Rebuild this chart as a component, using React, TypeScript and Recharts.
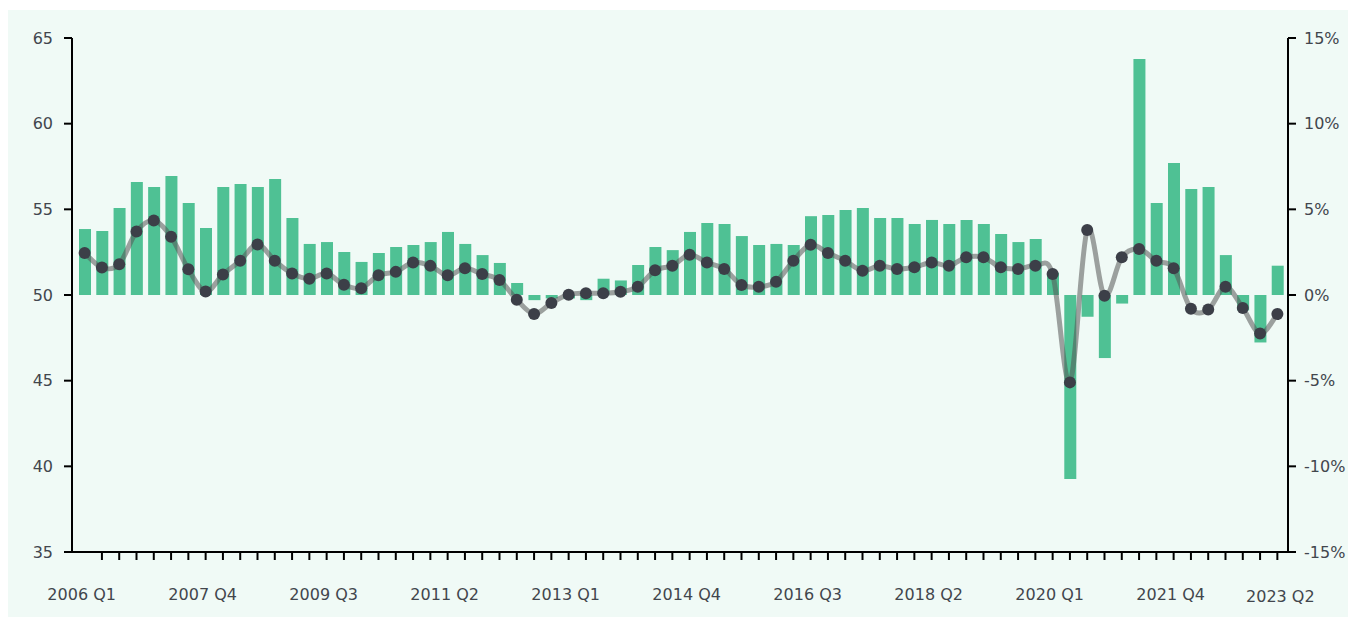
import React from 'react';
import { ComposedChart, Bar, Line, XAxis, YAxis } from 'recharts';

// 2006 Q1 .. 2023 Q2
const quarters = [
  '2006 Q1', '2006 Q2', '2006 Q3', '2006 Q4',
  '2007 Q1', '2007 Q2', '2007 Q3', '2007 Q4',
  '2008 Q1', '2008 Q2', '2008 Q3', '2008 Q4',
  '2009 Q1', '2009 Q2', '2009 Q3', '2009 Q4',
  '2010 Q1', '2010 Q2', '2010 Q3', '2010 Q4',
  '2011 Q1', '2011 Q2', '2011 Q3', '2011 Q4',
  '2012 Q1', '2012 Q2', '2012 Q3', '2012 Q4',
  '2013 Q1', '2013 Q2', '2013 Q3', '2013 Q4',
  '2014 Q1', '2014 Q2', '2014 Q3', '2014 Q4',
  '2015 Q1', '2015 Q2', '2015 Q3', '2015 Q4',
  '2016 Q1', '2016 Q2', '2016 Q3', '2016 Q4',
  '2017 Q1', '2017 Q2', '2017 Q3', '2017 Q4',
  '2018 Q1', '2018 Q2', '2018 Q3', '2018 Q4',
  '2019 Q1', '2019 Q2', '2019 Q3', '2019 Q4',
  '2020 Q1', '2020 Q2', '2020 Q3', '2020 Q4',
  '2021 Q1', '2021 Q2', '2021 Q3', '2021 Q4',
  '2022 Q1', '2022 Q2', '2022 Q3', '2022 Q4',
  '2023 Q1', '2023 Q2',
];

// year-on-year change, % (bars, right axis)
const growth = [
  3.85, 3.74, 5.08, 6.6, 6.3, 6.95, 5.37, 3.91, 6.3, 6.48,
  6.3, 6.77, 4.49, 2.98, 3.09, 2.51, 1.93, 2.45, 2.8, 2.92,
  3.09, 3.68, 2.98, 2.33, 1.87, 0.7, -0.3, -0.2, -0.2, -0.3,
  0.95, 0.85, 1.75, 2.8, 2.62, 3.68, 4.2, 4.14, 3.44, 2.92,
  2.98, 2.92, 4.6, 4.67, 4.96, 5.08, 4.49, 4.49, 4.14, 4.38,
  4.14, 4.38, 4.14, 3.56, 3.09, 3.27, 1.3, -10.74, -1.27, -3.68,
  -0.5, 13.78, 5.37, 7.7, 6.19, 6.3, 2.33, -0.9, -2.77, 1.71,
];

// index level (line, left axis)
const level = [
  52.45, 51.6, 51.8, 53.7, 54.35, 53.4, 51.5, 50.2, 51.2, 52.0,
  52.95, 52.0, 51.25, 50.95, 51.25, 50.6, 50.4, 51.15, 51.35, 51.9,
  51.7, 51.15, 51.56, 51.22, 50.87, 49.72, 48.89, 49.53, 50.02, 50.1,
  50.1, 50.19, 50.48, 51.44, 51.71, 52.35, 51.9, 51.52, 50.58, 50.48,
  50.78, 52.0, 52.93, 52.45, 52.0, 51.42, 51.71, 51.52, 51.62, 51.9,
  51.71, 52.2, 52.2, 51.62, 51.52, 51.71, 51.22, 44.9, 53.79, 49.96,
  52.2, 52.68, 52.0, 51.56, 49.2, 49.15, 50.48, 49.24, 47.75, 48.89,
];

const tickLabels = [
  '2006 Q1', '2007 Q4', '2009 Q3', '2011 Q2', '2013 Q1', '2014 Q4',
  '2016 Q3', '2018 Q2', '2020 Q1', '2021 Q4', '2023 Q2',
];
const leftTicks = [35, 40, 45, 50, 55, 60, 65];
const rightTicks = [-15, -10, -5, 0, 5, 10, 15];

const rows = quarters.map((q, i) => ({ q, growth: growth[i], level: level[i] }));

const INK = '#42464d';
const FONT = 'DejaVu Sans, Verdana, sans-serif';

// catmull-rom style smoothing, close to the spline used in the original
const smoothCurve = (context: any) => {
  let pts: number[][] = [];
  return {
    areaStart() {},
    areaEnd() {},
    lineStart() {
      pts = [];
    },
    point(x: number, y: number) {
      pts.push([+x, +y]);
    },
    lineEnd() {
      if (!pts.length) return;
      context.moveTo(pts[0][0], pts[0][1]);
      for (let i = 0; i < pts.length - 1; i++) {
        const p0 = pts[i - 1] || pts[i];
        const p1 = pts[i];
        const p2 = pts[i + 1];
        const p3 = pts[i + 2] || p2;
        context.bezierCurveTo(
          p1[0] + (p2[0] - p0[0]) / 6,
          p1[1] + (p2[1] - p0[1]) / 6,
          p2[0] - (p3[0] - p1[0]) / 6,
          p2[1] - (p3[1] - p1[1]) / 6,
          p2[0],
          p2[1],
        );
      }
    },
  };
};

function QuarterTick({ x, y, payload, index }: any) {
  const label = payload.value as string;
  const show = tickLabels.includes(label);
  const last = label === tickLabels[tickLabels.length - 1];
  return (
    <g>
      {index > 0 && (
        <line x1={x} x2={x} y1={y - 8} y2={y} stroke="#000" strokeWidth={2} />
      )}
      {show && (
        <text
          x={x + (last ? 3 : -3)}
          y={y + (last ? 42 : 40)}
          textAnchor="middle"
          fill={INK}
          fontSize={16}
          fontFamily={FONT}
        >
          {label}
        </text>
      )}
    </g>
  );
}

export default function App() {
  // fixed so the panel can run to the window edges without scrollbars
  return (
    <div
      style={{
        position: 'fixed',
        left: 8,
        top: 10,
        right: 0,
        bottom: 0,
        background: '#f0faf6',
        fontFamily: FONT,
      }}
    >
      <ComposedChart
        width={1340}
        height={607}
        data={rows}
        margin={{ top: 28, right: 0, bottom: 0, left: 0 }}
      >
        <XAxis
          dataKey="q"
          height={65}
          interval={0}
          padding={{ left: 4, right: 2 }}
          axisLine={{ stroke: '#000', strokeWidth: 2 }}
          tickLine={false}
          tickSize={8}
          tickMargin={0}
          tick={<QuarterTick />}
        />
        <YAxis
          yAxisId="left"
          orientation="left"
          width={64}
          domain={[35, 65]}
          ticks={leftTicks}
          interval={0}
          axisLine={{ stroke: '#000', strokeWidth: 2 }}
          tickLine={{ stroke: '#000', strokeWidth: 2 }}
          tickSize={8}
          tickMargin={11}
          tick={{ fontSize: 16, fill: INK, fontFamily: FONT }}
        />
        <YAxis
          yAxisId="right"
          orientation="right"
          width={60}
          domain={[-15, 15]}
          ticks={rightTicks}
          interval={0}
          axisLine={{ stroke: '#000', strokeWidth: 2 }}
          tickLine={{ stroke: '#000', strokeWidth: 2 }}
          tickSize={8}
          tickMargin={8}
          tickFormatter={(v: number) => `${v}%`}
          tick={{ fontSize: 16, fill: INK, fontFamily: FONT }}
        />
        <Bar
          yAxisId="right"
          dataKey="growth"
          fill="#4fc194"
          barSize={12}
          isAnimationActive={false}
        />
        <Line
          yAxisId="left"
          dataKey="level"
          type={smoothCurve as any}
          stroke="#555"
          strokeOpacity={0.55}
          strokeWidth={5}
          dot={{ r: 6, fill: '#3c3f48', stroke: 'none' }}
          activeDot={false}
          isAnimationActive={false}
        />
      </ComposedChart>
    </div>
  );
}
